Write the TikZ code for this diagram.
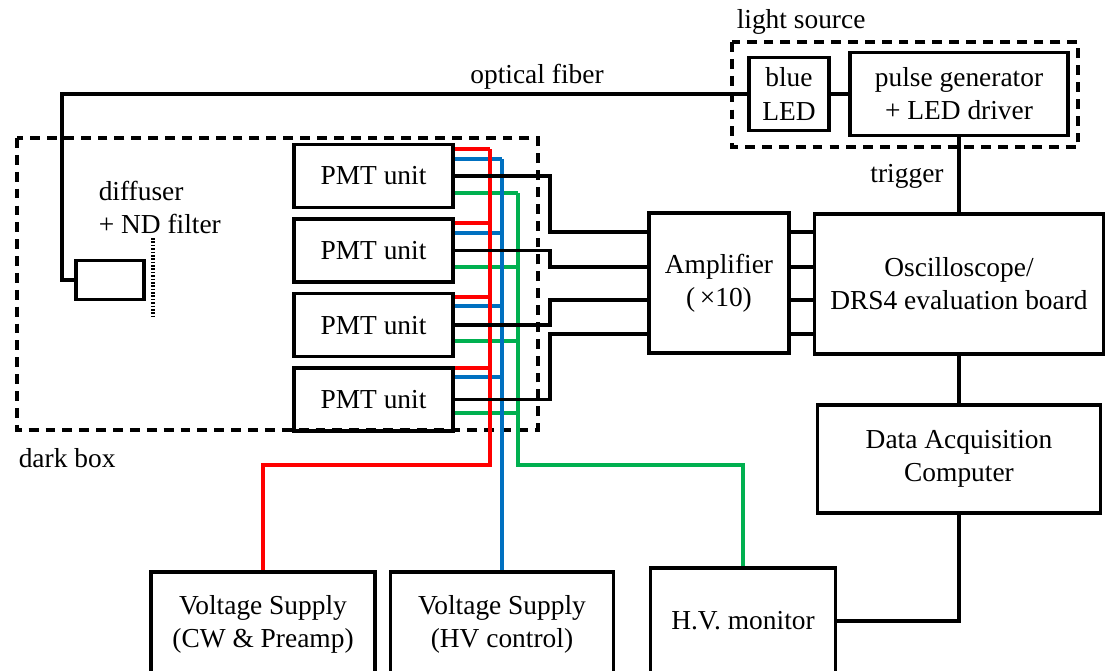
\documentclass[tikz,border=0pt]{standalone}
\usepackage{fontspec}
\setmainfont{Liberation Serif}
\usetikzlibrary{positioning}
\definecolor{wirered}{RGB}{255,0,0}
\definecolor{wireblue}{RGB}{0,112,192}
\definecolor{wiregreen}{RGB}{0,176,80}

\begin{document}
\begin{tikzpicture}[x=0.025cm, y=-0.025cm, line width=2.5pt,
    font=\fontsize{19.5}{23.5}\selectfont,
    unitbox/.style={rectangle, draw, align=center, inner sep=0pt},
    pmt/.style={unitbox, minimum width=3.975cm, minimum height=1.575cm},
    dashframe/.style={draw, dash pattern=on 7pt off 5pt},
    filterline/.style={line width=2.4pt, dash pattern=on 1.2pt off 1.2pt},
    lbl/.style={inner sep=0pt}]
  \useasboundingbox (0,0) rectangle (1106,671);

  % light source
  \node (led) [unitbox, minimum width=2cm, minimum height=1.825cm] at (789,94) {blue\\LED};
  \node (pulse) [unitbox, minimum width=5.45cm, minimum height=2.075cm] at (959,94) {pulse generator\\+ LED driver};
  \draw[dashframe] (732,42) rectangle (1078,147);
  \node (srclbl) [lbl, anchor=west] at (735,22) {light source};

  % dark box
  \node (diff) [unitbox, minimum width=1.7cm, minimum height=0.975cm] at (110,280) {};
  \node (difflbl) [lbl, anchor=west, align=left] at (97,207) {diffuser\\+ ND filter};
  \node (p1) [pmt] at (373.5,176) {PMT unit};
  \node (p2) [pmt, below=0.2cm of p1] {PMT unit};
  \node (p3) [pmt, below=0.2cm of p2] {PMT unit};
  \node (p4) [pmt, below=0.2cm of p3] {PMT unit};
  \draw[dashframe] (17,138) rectangle (538,430);
  \node (darklbl) [lbl, anchor=west] at (17,458) {dark box};

  % readout
  \node (amp) [unitbox, minimum width=3.5cm, minimum height=3.5cm] at (719,283) {Amplifier\\(\,×10)};
  \node (osc) [unitbox, minimum width=7.225cm, minimum height=3.5cm] at (959,284) {Oscilloscope/\\DRS4 evaluation board};
  \node (daq) [unitbox, minimum width=7.075cm, minimum height=2.7cm] at (959,459) {Data Acquisition\\Computer};

  % supplies
  \node (vs1) [unitbox, minimum width=5.6cm, minimum height=2.6cm] at (263,624) {Voltage Supply\\(CW \& Preamp)};
  \node (vs2) [unitbox, minimum width=5.575cm, minimum height=2.6cm] at (502,624) {Voltage Supply\\(HV control)};
  \node (hv) [unitbox, minimum width=4.625cm, minimum height=2.65cm] at (743,621) {H.V. monitor};

  % light path
  \draw (led.west) -| (62,280) -- (diff.west);
  \node (fiberlbl) [lbl] at (537,77) {optical fiber};
  \draw[filterline] (153,238) -- (153,318);
  \draw (led) -- (pulse);
  \draw (pulse) -- (osc);
  \node (trglbl) [lbl] at (907,176) {trigger};
  \draw (osc) -- (daq);
  \draw (daq.south) |- (hv.east);

  % power and monitor wires
  \foreach \n/\r/\b/\g in {1/149/159/193, 2/223/233/267, 3/297/306/341, 4/368/377/413} {
    \draw[wirered] (p\n.east |- 0,\r) -- (490,\r);
    \draw[wireblue] (p\n.east |- 0,\b) -- (502,\b);
    \draw[wiregreen] (p\n.east |- 0,\g) -- (518,\g);
  }
  \draw[wirered] (490,149) -- (490,465) -| (vs1.north);
  \draw[wireblue] (502,159) -- (vs2.north);
  \draw[wiregreen] (518,193) -- (518,465) -| (hv.north);

  % signal lines
  \foreach \n/\y in {1/232, 2/267, 3/300, 4/334} {
    \draw (p\n.east) -| (550,\y) -- (amp.west |- 0,\y);
    \draw (amp.east |- 0,\y) -- (osc.west |- 0,\y);
  }
\end{tikzpicture}
\end{document}
